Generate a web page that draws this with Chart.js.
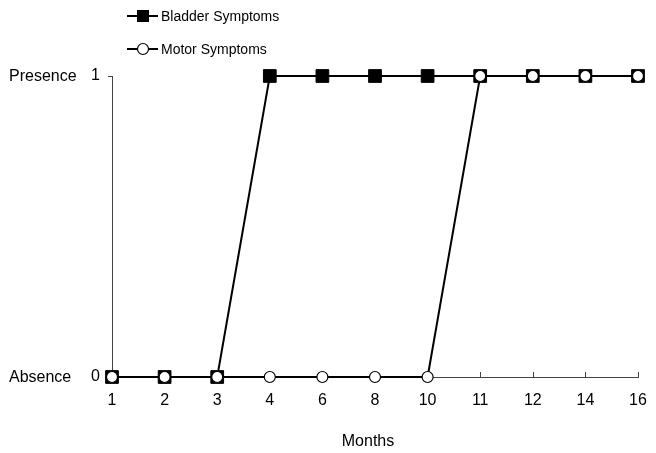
<!DOCTYPE html>
<html><head><meta charset="utf-8">
<script src="https://cdn.jsdelivr.net/npm/chart.js"></script>
<style>html,body{margin:0;padding:0;background:#fff}#wrap{width:656px;height:453px}</style>
</head><body><div id="wrap"><canvas id="c" width="656" height="453"></canvas></div>
<script>
const months = ['1','2','3','4','6','8','10','11','12','14','16'];
const bladder = [0,0,0,1,1,1,1,1,1,1,1];
const motor = [0,0,0,0,0,0,0,1,1,1,1];
const yStateLabels = {0:'Absence', 1:'Presence'};
const seriesNames = ['Bladder Symptoms','Motor Symptoms'];
const xTitle = 'Months';

const FONT = "'Liberation Sans', Arial, sans-serif";
const AXIS = '#444';

const extras = {
  id: 'extras',
  beforeDatasetsDraw(chart) {
    const ctx = chart.ctx, xs = chart.scales.x, ys = chart.scales.y;
    ctx.save();
    ctx.strokeStyle = AXIS; ctx.lineWidth = 1;
    const yb = ys.getPixelForValue(0);
    months.forEach((m, i) => {
      const px = Math.round(xs.getPixelForValue(i)) + 0.5;
      ctx.beginPath(); ctx.moveTo(px, yb); ctx.lineTo(px, yb - 5); ctx.stroke();
    });
    [0, 1].forEach(v => {
      const py = Math.round(ys.getPixelForValue(v)) + 0.5;
      ctx.beginPath(); ctx.moveTo(xs.left - 4, py); ctx.lineTo(xs.left, py); ctx.stroke();
    });
    ctx.restore();
  },
  afterDraw(chart) {
    const ctx = chart.ctx, xs = chart.scales.x, ys = chart.scales.y;
    ctx.save();
    ctx.fillStyle = '#000';
    ctx.font = '16px ' + FONT;
    ctx.textBaseline = 'middle';
    ctx.textAlign = 'left';
    [0, 1].forEach(v => ctx.fillText(yStateLabels[v], 9, ys.getPixelForValue(v) + 1));
    ctx.textAlign = 'center';
    ctx.fillText(xTitle, (xs.left + xs.right) / 2 - 7, 442);
    // legend
    ctx.font = '14px ' + FONT;
    ctx.textAlign = 'left';
    const rows = [16, 49];
    rows.forEach((y, k) => {
      ctx.strokeStyle = '#000'; ctx.lineWidth = 2;
      ctx.beginPath(); ctx.moveTo(127, y); ctx.lineTo(158, y); ctx.stroke();
      if (k === 0) {
        ctx.fillStyle = '#000';
        ctx.fillRect(137, y - 6, 12, 12);
      } else {
        ctx.fillStyle = '#fff'; ctx.lineWidth = 1.2;
        ctx.beginPath(); ctx.arc(143, y, 5.5, 0, Math.PI * 2); ctx.fill(); ctx.stroke();
      }
      ctx.fillStyle = '#000';
      ctx.fillText(seriesNames[k], 161, y + 1);
    });
    ctx.restore();
  }
};

new Chart(document.getElementById('c'), {
  type: 'line',
  data: {
    labels: months,
    datasets: [
      { label: seriesNames[0], data: bladder, order: 1, borderColor: '#000', borderWidth: 2,
        pointStyle: 'rect', pointRadius: 9, pointBackgroundColor: '#000', pointBorderColor: '#000',
        pointBorderWidth: 1, tension: 0, clip: false },
      { label: seriesNames[1], data: motor, order: 0, borderColor: '#000', borderWidth: 2,
        pointStyle: 'circle', pointRadius: 5.5, pointBackgroundColor: '#fff', pointBorderColor: '#000',
        pointBorderWidth: 1.2, tension: 0, clip: false }
    ]
  },
  options: {
    responsive: false, animation: false, devicePixelRatio: 1,
    layout: { padding: { left: 0, right: 18, top: 76, bottom: 0 } },
    plugins: { legend: { display: false }, tooltip: { enabled: false } },
    scales: {
      x: {
        type: 'category', offset: false,
        grid: { display: false, drawTicks: false },
        border: { display: true, color: AXIS, width: 1 },
        ticks: { color: '#000', font: { family: FONT, size: 16 }, padding: 14, maxRotation: 0, autoSkip: false },
        afterFit(s) { s.height = 76; s.paddingRight = 0; s.paddingLeft = 0; }
      },
      y: {
        min: 0, max: 1,
        grid: { display: false, drawTicks: false },
        border: { display: true, color: AXIS, width: 1 },
        ticks: { stepSize: 1, color: '#000', font: { family: FONT, size: 16 }, padding: 12 },
        afterFit(s) { s.width = 112; s.paddingTop = 0; s.paddingBottom = 0; }
      }
    }
  },
  plugins: [extras]
});
</script></body></html>
